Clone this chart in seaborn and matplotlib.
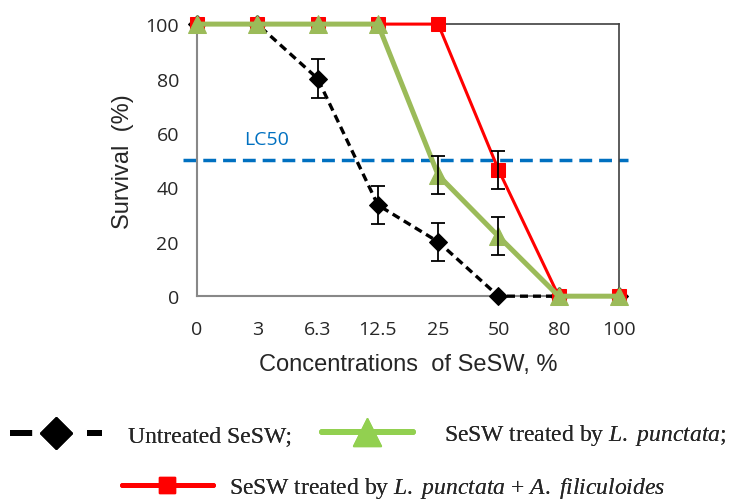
import numpy as np
import pandas as pd
import matplotlib
matplotlib.use("Agg")
import matplotlib.pyplot as plt
import seaborn as sns
from matplotlib.lines import Line2D

concentrations = ["0", "3", "6.3", "12.5", "25", "50", "80", "100"]

untreated = [100, 100, 80, 33.5, 20, 0, 0, 0]
untreated_err = [0, 0, 7, 7, 7, 0, 0, 0]

lemna = [100, 100, 100, 100, 44.5, 22, 0, 0]
lemna_err = [0, 0, 0, 0, 7, 7, 0, 0]

lemna_azolla = [100, 100, 100, 100, 100, 46.5, 0, 0]
lemna_azolla_err = [0, 0, 0, 0, 0, 7, 0, 0]

LC50 = 50

BLACK = "#000000"
GREEN = "#9BBB59"
LEGEND_GREEN = "#92D050"
RED = "#FF0000"
BLUE = "#0070C0"

sns.set_style("white")
plt.rcParams["font.family"] = ["Liberation Sans", "DejaVu Sans"]
plt.rcParams["mathtext.fontset"] = "custom"
plt.rcParams["mathtext.it"] = "Liberation Serif:italic"
plt.rcParams["mathtext.rm"] = "Liberation Serif"

pos = np.arange(len(concentrations))
df = pd.DataFrame({
    "pos": np.tile(pos, 3),
    "survival": untreated + lemna + lemna_azolla,
    "err": untreated_err + lemna_err + lemna_azolla_err,
    "series": ["untreated"] * 8 + ["lemna"] * 8 + ["lemna_azolla"] * 8,
})

fig = plt.figure(figsize=(7.31, 5.02), dpi=100)
ax = fig.add_axes([0.2695, 0.408, 0.5773, 0.542])

styles = {
    "untreated": dict(color=BLACK, marker="D", markersize=9.2, linewidth=2.4,
                      dashes=(2.4, 1.5), zorder=3),
    "lemna_azolla": dict(color=RED, marker="s", markersize=9.5, linewidth=2.2,
                         zorder=4),
    "lemna": dict(color=GREEN, marker="^", markersize=13, linewidth=3.6,
                  zorder=5),
}

for name, st in styles.items():
    sub = df[df["series"] == name]
    kw = dict(st)
    dashes = kw.pop("dashes", None)
    sns.lineplot(data=sub, x="pos", y="survival", ax=ax,
                 markeredgecolor=kw["color"], clip_on=False, **kw)
    if dashes is not None:
        ax.lines[-1].set_dashes(dashes)
    has_err = sub[sub["err"] > 0]
    ax.errorbar(has_err["pos"], has_err["survival"], yerr=has_err["err"],
                fmt="none", ecolor=BLACK, elinewidth=1.3, capsize=5,
                capthick=1.3, zorder=6)

ax.axhline(LC50, xmin=-0.033, xmax=1.021, color=BLUE, linewidth=2.5,
           dashes=(3.7, 2), clip_on=False, zorder=2)
ax.text(1.16, 57.7, "LC50", color=BLUE, fontsize=14, ha="center",
        va="center", family=["Open Sans", "DejaVu Sans"])

ax.set_xlim(0, len(concentrations) - 1)
ax.set_ylim(0, 100)
ax.set_xticks(pos)
ax.set_xticklabels(concentrations)
ax.set_yticks(np.arange(0, 101, 20))
ax.tick_params(axis="both", labelsize=14, direction="out", length=5,
               width=1.2, color="#888888")
ax.tick_params(axis="x", pad=12)
ax.tick_params(axis="y", pad=8)
for lab in ax.get_xticklabels() + ax.get_yticklabels():
    lab.set_family(["Open Sans", "DejaVu Sans"])

ax.set_xlabel("Concentrations  of SeSW, %", fontsize=17, labelpad=11)
ax.set_ylabel("Survival  (%)", fontsize=17, labelpad=8)

for side in ["left", "bottom"]:
    ax.spines[side].set_color("#888888")
    ax.spines[side].set_linewidth(1.5)
for side in ["top", "right"]:
    ax.spines[side].set_color("#404040")
    ax.spines[side].set_linewidth(1.2)

handles = [
    Line2D([], [], color=BLACK, marker="D", markersize=16, linewidth=4.3,
           dashes=(3.7, 9.2)),
    Line2D([], [], color=LEGEND_GREEN, marker="^", markersize=20,
           linewidth=4.3),
    Line2D([], [], color=RED, marker="s", markersize=12, linewidth=3.6),
]
labels = [
    "Untreated SeSW;",
    r"SeSW treated by $\it{L.\ punctata;}$",
    r"SeSW treated by $\it{L.\ punctata}$ + $\it{A.\ filiculoides}$",
]
legend_font = dict(family=["Liberation Serif", "DejaVu Serif"], size=17)
# (left px, centre y px, handle length, handle-text pad) in font units
spots = [
    (10, 436, 3.9, 1.1),
    (322, 436, 3.85, 1.3),
    (122, 489, 3.85, 0.68),
]
for h, lab, (x0, y0, hl, tp) in zip(handles, labels, spots):
    leg = fig.legend(handles=[h], labels=[lab], loc="center left",
                     bbox_to_anchor=(x0 / 731, 1 - y0 / 502), frameon=False,
                     handlelength=hl, handletextpad=tp, borderpad=0,
                     borderaxespad=0, prop=legend_font)
    fig.add_artist(leg)

fig.savefig("out.png", dpi=100)
